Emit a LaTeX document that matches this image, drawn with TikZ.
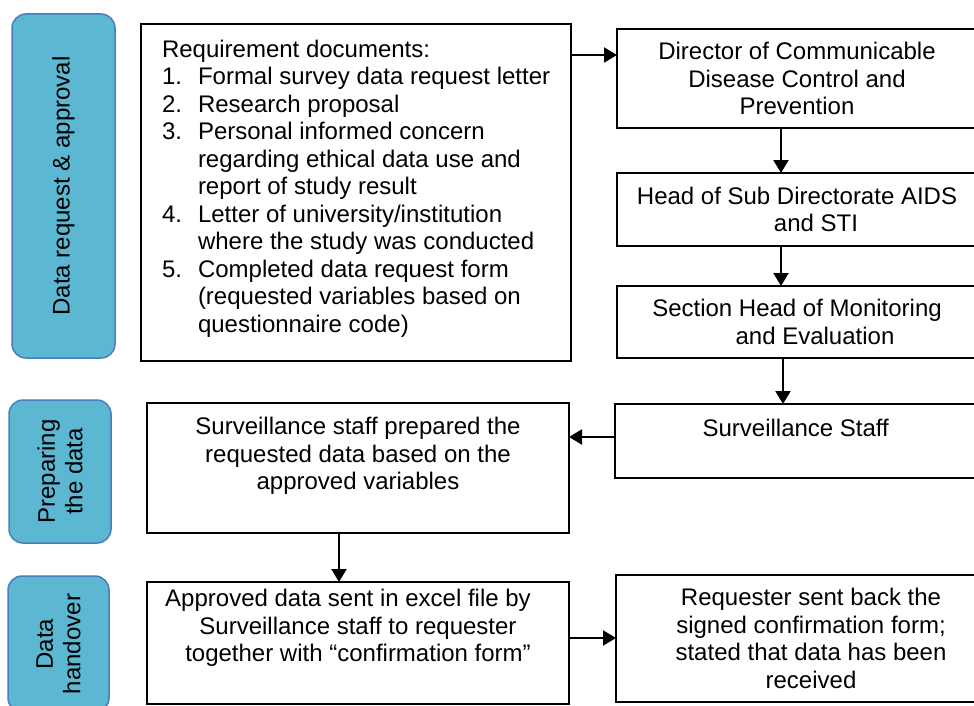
\documentclass[tikz,border=0pt]{standalone}
\usepackage{fontspec}
\setmainfont{Liberation Sans}
\usetikzlibrary{arrows.meta}
\definecolor{tabfill}{RGB}{91,183,210}
\definecolor{tabline}{RGB}{74,126,187}

\begin{document}
\fontsize{12}{13.75}\selectfont
\begin{tikzpicture}[>={Triangle[length=6.5pt,width=7.5pt]}]
\begin{scope}

\tikzstyle{node1} = [draw,line width=1pt,anchor=north west,inner sep=0pt,outer sep=0pt,align=center];
\tikzstyle{node2} = [draw=tabline,line width=0.75pt,fill=tabfill,rounded corners=7pt,anchor=north east,outer sep=0pt];
\tikzstyle{node3} = [inner sep=0pt,outer sep=0pt,align=center];

\useasboundingbox (0,0) rectangle (487pt,-353pt);
\clip (0,0) rectangle (487pt,-353pt);

\node [node1,minimum width=215pt,minimum height=168.5pt] (s1) at (70.5pt,-12pt) {};
\node [node3,anchor=north west,align=left] (s11) at ([xshift=10.5pt,yshift=-8pt]s1.north west) {Requirement documents:\\
\makebox[18pt][l]{1.}Formal survey data request letter\\
\makebox[18pt][l]{2.}Research proposal\\
\makebox[18pt][l]{3.}Personal informed concern\\
\hspace*{18pt}regarding ethical data use and\\
\hspace*{18pt}report of study result\\
\makebox[18pt][l]{4.}Letter of university/institution\\
\hspace*{18pt}where the study was conducted\\
\makebox[18pt][l]{5.}Completed data request form\\
\hspace*{18pt}(requested variables based on\\
\hspace*{18pt}questionnaire code)};

\node [node1,minimum width=180pt,minimum height=49.5pt] (r1) at ([xshift=23pt,yshift=-2.5pt]s1.north east) {Director of Communicable\\Disease Control and\\Prevention};
\node [node1,minimum width=180pt,minimum height=36.5pt] (r2) at ([yshift=-22.5pt]r1.south west) {Head of Sub Directorate AIDS\\\hspace*{19pt}and STI};
\node [node1,minimum width=180pt,minimum height=36pt] (r3) at ([yshift=-20pt]r2.south west) {Section Head of Monitoring\\\hspace*{18pt}and Evaluation};
\node [node1,minimum width=181.25pt,minimum height=37pt] (r4) at ([xshift=-1.25pt,yshift=-23pt]r3.south west) {};
\node [node3,anchor=north] (r41) at ([yshift=-7.75pt]r4.north) {Surveillance Staff};

\node [node1,minimum width=211pt,minimum height=65pt] (p1) at ([xshift=3pt,yshift=-21pt]s1.south west) {};
\node [node3,anchor=north] (p11) at ([yshift=-7.25pt]p1.north) {Surveillance staff prepared the\\requested data based on the\\approved variables};

\node [node1,minimum width=211pt,minimum height=61pt] (h1) at ([yshift=-24.5pt]p1.south west) {};
\node [node3,anchor=north] (h11) at ([yshift=-3.75pt]h1.north) {Approved data sent in excel file by\hspace*{10pt}\\Surveillance staff to requester\\together with “confirmation form”};
\node [node1,minimum width=195pt,minimum height=63.5pt] (h2) at ([xshift=23.5pt,yshift=3.5pt]h1.north east) {Requester sent back the\\signed confirmation form;\\stated that data has been\\received};

\node [node2,minimum width=51.5pt,minimum height=172pt] (l1) at ([xshift=-13pt,yshift=5pt]s1.north west) {};
\node [node3,rotate=90] (l11) at (l1.center) {Data request \& approval};
\node [node2,minimum width=51pt,minimum height=71.5pt] (l2) at ([xshift=-18pt,yshift=1.5pt]p1.north west) {};
\node [node3,rotate=90] (l21) at (l2.center) {Preparing\\the data};
\node [node2,minimum width=50.5pt,minimum height=68pt] (l3) at ([xshift=-19pt,yshift=3pt]h1.north west) {};
\node [node3,rotate=90] (l31) at (l3.center) {Data\\handover};

\draw [->,line width=1pt] ([yshift=-15.5pt]s1.north east) -- ([yshift=-13pt]r1.north west);
\draw [->,line width=1pt] ([xshift=-8pt]r1.south) -- ([xshift=-8pt]r2.north);
\draw [->,line width=1pt] ([xshift=-8pt]r2.south) -- ([xshift=-8pt]r3.north);
\draw [->,line width=1pt] ([xshift=-7pt]r3.south) -- ([xshift=-7pt]r3.south |- r4.north);
\draw [->,line width=1pt] ([yshift=2pt]r4.west) -- ([yshift=2pt]r4.west -| p1.east);
\draw [->,line width=1pt] ([xshift=-9.5pt]p1.south) -- ([xshift=-9.5pt]h1.north);
\draw [->,line width=1pt] ([yshift=2.5pt]h1.east) -- ([yshift=2.5pt]h1.east -| h2.west);

\end{scope}
\end{tikzpicture}
\end{document}
